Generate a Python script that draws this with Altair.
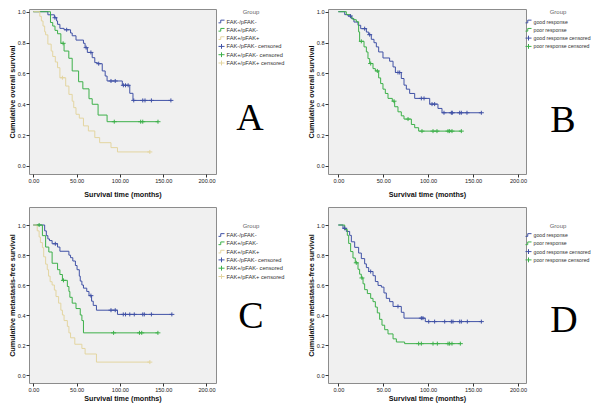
import altair as alt
import pandas as pd

# ---------------- data ----------------
FAK_LABELS = ["FAK-/pFAK-", "FAK+/pFAK-", "FAK+/pFAK+"]
RESP_LABELS = ["good response", "poor response"]

# Panel A: cumulative overall survival by FAK / pFAK group
A1_time = [0, 16.8, 24.3, 26.9, 28.0, 30.7, 35.5, 43.0, 44.9, 49.3, 57.9, 59.8, 62.4, 68.0, 71.0, 74.0, 79.6, 83.0, 85.2, 102.8, 111.4, 115.1]
A1_surv = [1.0, 0.98, 0.961, 0.94, 0.918, 0.892, 0.883, 0.862, 0.844, 0.816, 0.795, 0.767, 0.736, 0.702, 0.67, 0.663, 0.616, 0.583, 0.551, 0.523, 0.471, 0.425]
A1_cens = [25.0, 38.5, 61.0, 66.5, 75.5, 89.7, 94.6, 104.0, 106.5, 109.5, 116.0, 126.4, 129.0, 136.4, 158.9]

A2_time = [0, 19.8, 22.4, 25.0, 28.0, 31.8, 35.5, 41.0, 44.9, 52.3, 57.2, 64.3, 68.0, 74.8, 85.2]
A2_surv = [1.0, 0.93, 0.907, 0.879, 0.857, 0.795, 0.745, 0.698, 0.616, 0.546, 0.5, 0.436, 0.40, 0.33, 0.287]
A2_cens = [34.4, 93.5, 124.0, 126.4, 144.0]

A3_time = [0, 7.5, 9.3, 11.2, 13.1, 14.2, 16.8, 20.6, 22.4, 25.4, 28.0, 30.7, 37.4, 41.1, 44.9, 46.7, 49.3, 53.1, 57.9, 63.6, 71.0, 76.6, 89.7, 97.2]
A3_surv = [1.0, 0.97, 0.94, 0.907, 0.87, 0.85, 0.79, 0.745, 0.71, 0.674, 0.637, 0.572, 0.518, 0.464, 0.42, 0.378, 0.335, 0.31, 0.26, 0.227, 0.184, 0.151, 0.119, 0.091]
A3_cens = [33.6, 134.6]

# Panel B: cumulative overall survival by response
B1_time = [0, 7.1, 10.8, 14.5, 17.4, 21.9, 24.9, 31.2, 33.8, 36.7, 39.7, 42.3, 44.9, 49.7, 57.1, 60.9, 63.5, 70.1, 73.1, 75.7, 79.4, 85.0, 101.7, 110.9, 115.4]
B1_surv = [1.0, 0.981, 0.972, 0.955, 0.933, 0.912, 0.89, 0.868, 0.851, 0.821, 0.799, 0.772, 0.739, 0.70, 0.679, 0.642, 0.606, 0.567, 0.524, 0.498, 0.47, 0.438, 0.401, 0.373, 0.345]
B1_cens = [13.4, 29.3, 34.9, 66.4, 68.3, 92.4, 95.4, 104.3, 107.2, 117.6, 125.8, 126.9, 135.1, 136.9, 143.2, 159.2]

B2_time = [0, 8.9, 13.7, 16.3, 20.0, 22.6, 23.7, 28.6, 31.2, 33.0, 34.9, 38.6, 41.2, 44.9, 47.1, 49.7, 52.3, 55.3, 60.1, 62.7, 66.4, 70.1, 73.1, 81.3, 85.0, 89.4]
B2_surv = [1.0, 0.981, 0.96, 0.948, 0.935, 0.869, 0.808, 0.772, 0.739, 0.696, 0.664, 0.631, 0.616, 0.571, 0.534, 0.498, 0.47, 0.438, 0.42, 0.384, 0.351, 0.325, 0.304, 0.269, 0.248, 0.226]
B2_cens = [25.6, 36.0, 43.4, 62.0, 77.6, 93.1, 105.4, 109.8, 122.1, 123.9, 126.5, 136.9]

# Panel C: cumulative metastasis-free survival by FAK / pFAK group
C1_time = [0, 13.1, 15.0, 16.8, 18.7, 21.7, 28.0, 30.7, 41.1, 43.0, 45.6, 48.6, 50.5, 53.1, 54.2, 56.1, 57.9, 61.7, 64.3, 67.3, 69.2, 72.9, 97.2]
C1_surv = [1.0, 0.961, 0.929, 0.907, 0.896, 0.875, 0.853, 0.825, 0.799, 0.782, 0.76, 0.73, 0.702, 0.659, 0.626, 0.6, 0.579, 0.557, 0.529, 0.492, 0.464, 0.432, 0.404]
C1_cens = [25.4, 66.5, 89.7, 94.6, 103.9, 106.5, 111.4, 116.6, 126.4, 128.2, 136.4, 160.0]

C2_time = [0, 10.5, 14.2, 17.9, 21.7, 28.0, 30.7, 33.6, 39.3, 41.1, 42.2, 44.9, 49.3, 54.2, 56.1, 57.9]
C2_surv = [1.0, 0.929, 0.853, 0.82, 0.745, 0.702, 0.67, 0.631, 0.59, 0.557, 0.518, 0.479, 0.443, 0.4, 0.363, 0.281]
C2_cens = [6.7, 34.8, 92.7, 122.6, 125.2, 143.9]

C3_time = [0, 4.5, 6.7, 8.2, 10.5, 12.0, 14.2, 16.1, 17.6, 19.4, 21.7, 24.3, 26.2, 29.2, 31.8, 33.6, 35.5, 39.3, 41.1, 43.0, 47.9, 56.1, 59.8, 72.9]
C3_surv = [1.0, 0.961, 0.92, 0.883, 0.849, 0.788, 0.739, 0.702, 0.659, 0.622, 0.6, 0.566, 0.523, 0.479, 0.432, 0.4, 0.363, 0.324, 0.281, 0.248, 0.205, 0.177, 0.140, 0.086]
C3_cens = [134.6]

# Panel D: cumulative metastasis-free survival by response
D1_time = [0, 5.2, 8.9, 12.6, 14.5, 18.2, 22.6, 25.6, 29.3, 31.2, 33.8, 38.6, 41.2, 44.2, 47.9, 50.8, 53.4, 57.1, 60.9, 70.1, 73.1, 96.8]
D1_surv = [1.0, 0.978, 0.957, 0.931, 0.888, 0.851, 0.813, 0.776, 0.741, 0.716, 0.69, 0.662, 0.623, 0.597, 0.586, 0.547, 0.511, 0.489, 0.457, 0.418, 0.379, 0.356]
D1_cens = [7.1, 36.0, 66.4, 92.4, 94.2, 100.6, 107.2, 118.4, 125.8, 127.6, 135.1, 136.9, 143.6, 159.2]

D2_time = [0, 7.1, 10.0, 11.5, 13.7, 16.3, 18.9, 21.9, 23.7, 25.6, 27.5, 29.3, 32.3, 36.0, 38.6, 41.2, 43.4, 46.0, 48.6, 51.6, 55.3, 60.9, 64.6, 73.8]
D2_surv = [1.0, 0.97, 0.931, 0.877, 0.823, 0.78, 0.748, 0.705, 0.672, 0.647, 0.608, 0.569, 0.543, 0.511, 0.489, 0.453, 0.414, 0.371, 0.332, 0.302, 0.274, 0.241, 0.22, 0.209]
D2_cens = [20.0, 26.3, 89.4, 92.4, 105.4, 110.2, 122.1, 123.9, 126.5, 135.8]

X_TICKS = [0, 50, 100, 150, 200]
Y_TICKS = [0.0, 0.2, 0.4, 0.6, 0.8, 1.0]

# ---------------- styling ----------------
BLUE, GREEN, TAN = "#4052a6", "#3db04a", "#e3d5a0"
STEP = "M-1,0.45L-0.25,0.45L-0.25,-0.45L1,-0.45"
CROSS = "M-1,0L1,0M0,-0.8L0,0.8"
FONT = "Liberation Sans"


def km_tables(labels, curves):
    lines, pts = [], []
    for label, (times, surv, cens) in zip(labels, curves):
        end = max(cens)
        lines.append(pd.DataFrame({"t": list(times) + [end],
                                   "s": list(surv) + [surv[-1]],
                                   "label": label}))
        cs = []
        for c in cens:
            idx = max(i for i, tt in enumerate(times) if tt <= c)
            cs.append(surv[idx])
        pts.append(pd.DataFrame({"t": cens, "s": cs, "label": label + " censored"}))
    return pd.concat(lines, ignore_index=True), pd.concat(pts, ignore_index=True)


def panel(labels, curves, colors, ytitle, letter, xdom, ydom, w, h,
          leg_x, leg_y, leg_font, let_x, let_y, xtitle_pad):
    lines, pts = km_tables(labels, curves)
    domain = labels + [l + " censored" for l in labels]
    legend = alt.Legend(title="Group", orient="none", legendX=leg_x, legendY=leg_y,
                        titleFontSize=6, titleFontWeight="normal", titleColor="#666666",
                        titleFont=FONT, titleAnchor="middle", titlePadding=3,
                        labelFont=FONT, labelFontSize=leg_font, labelColor="#333333",
                        labelOffset=1.5, symbolSize=36, symbolStrokeWidth=1,
                        rowPadding=1.3, clipHeight=7, padding=0, offset=0)
    color = alt.Color("label:N", scale=alt.Scale(domain=domain, range=colors + colors),
                      legend=legend)
    shape = alt.Shape("label:N", scale=alt.Scale(domain=domain,
                      range=[STEP] * len(labels) + [CROSS] * len(labels)),
                      legend=legend)
    x = alt.X("t:Q", scale=alt.Scale(domain=xdom, nice=False, zero=False),
              axis=alt.Axis(values=X_TICKS, format=".2f", title="Survival time (months)",
                            titlePadding=xtitle_pad))
    y = alt.Y("s:Q", scale=alt.Scale(domain=ydom, nice=False, zero=False),
              axis=alt.Axis(values=Y_TICKS, format=".1f", title=ytitle))
    line_ch = alt.Chart(lines).mark_line(interpolate="step-after", strokeWidth=1).encode(
        x=x, y=y, color=color, detail="label:N")
    pt_ch = alt.Chart(pts).mark_point(filled=False, size=25, strokeWidth=1, opacity=1).encode(
        x=x, y=y, color=color, shape=shape)
    let_ch = alt.Chart(pd.DataFrame({"letter": [letter]})).mark_text(
        font="Liberation Serif", fontSize=38, align="center", baseline="alphabetic",
        color="#000000").encode(text="letter:N", x=alt.value(let_x), y=alt.value(let_y))
    return alt.layer(line_ch, pt_ch, let_ch).properties(width=w, height=h)


WA, WB = 187, 198
HT, HB = 165, 176
XDOM_A = [-5.0, 211.0]
XDOM_B = [-11.5, 208.9]
YDOM_T = [-0.052, 1.0175]
YDOM_B = [-0.0533, 1.12]

pA = panel(FAK_LABELS, [(A1_time, A1_surv, A1_cens), (A2_time, A2_surv, A2_cens), (A3_time, A3_surv, A3_cens)],
           [BLUE, GREEN, TAN], "Cumulative overall survival", "A", XDOM_A, YDOM_T, WA, HT,
           WA + 2, 0, 5.7, 221, 121, 6.4)
pB = panel(RESP_LABELS, [(B1_time, B1_surv, B1_cens), (B2_time, B2_surv, B2_cens)],
           [BLUE, GREEN], "Cumulative overall survival", "B", XDOM_B, YDOM_T, WB, HT,
           WB - 1, 0, 5.2, 235, 123, 6.4)
pC = panel(FAK_LABELS, [(C1_time, C1_surv, C1_cens), (C2_time, C2_surv, C2_cens), (C3_time, C3_surv, C3_cens)],
           [BLUE, GREEN, TAN], "Cumulative metastasis-free survival", "C", XDOM_A, YDOM_B, WA, HB,
           WA + 2, 15.5, 5.7, 222, 121, 2)
pD = panel(RESP_LABELS, [(D1_time, D1_surv, D1_cens), (D2_time, D2_surv, D2_cens)],
           [BLUE, GREEN], "Cumulative metastasis-free survival", "D", XDOM_B, YDOM_B, WB, HB,
           WB - 1, 15.5, 5.2, 236, 125, 2)

chart = alt.concat(pA, pB, pC, pD, columns=2, spacing={"row": 33, "column": 112},
                   bounds="flush", align="each").resolve_scale(
    color="independent", shape="independent").resolve_legend(
    color="independent", shape="independent").properties(padding=0).configure_view(
    fill="#f0f0f0", stroke="#8c8c8c", strokeWidth=1).configure_axis(
    domain=False, grid=False, tickSize=3, tickColor="#333333", tickWidth=1,
    labelFont=FONT, labelFontSize=5.6, labelColor="#222222", labelPadding=1,
    labelFlush=False, titleFont=FONT, titleFontSize=7.2, titleFontWeight="bold",
    titleColor="#111111").configure_axisY(titlePadding=0.5)

chart.save("out.html", embed_options={"renderer": "svg", "actions": False})
